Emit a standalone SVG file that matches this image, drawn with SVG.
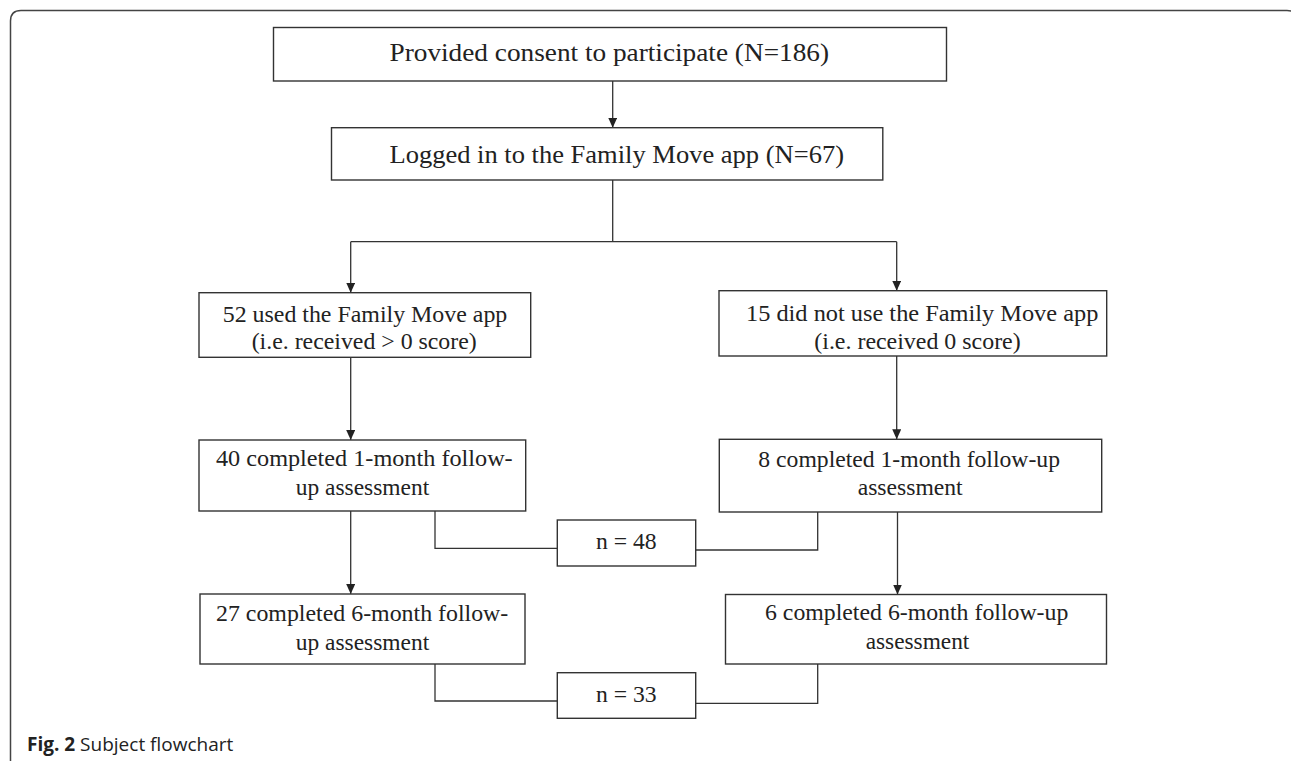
<svg xmlns="http://www.w3.org/2000/svg" width="1291" height="761" viewBox="0 0 1291 761">
<defs>
<marker id="ah" markerUnits="userSpaceOnUse" markerWidth="10" markerHeight="9" refX="10" refY="4.5" orient="auto">
<path d="M0,0 L10,4.5 L0,9 Z" fill="#222"/>
</marker>
<style>
.box{fill:#fff;stroke:#333;stroke-width:1.4}
.t{font-family:"Liberation Serif","Times New Roman",serif;fill:#222;font-size:23.5px}
.tb{font-family:"Liberation Serif","Times New Roman",serif;fill:#222;font-size:26px}
.ln{fill:none;stroke:#333;stroke-width:1.3}
.ar{fill:none;stroke:#333;stroke-width:1.3;marker-end:url(#ah)}
.cap{font-family:"Open Sans","Noto Sans",sans-serif;fill:#222;font-size:19px}
</style>
</defs>
<rect width="1291" height="761" fill="#fff"/>
<path d="M10.5,763 V21 Q10.5,10.5 21,10.5 H1287 Q1297,10.5 1297,20" fill="none" stroke="#444" stroke-width="1.5"/>

<g id="connectors">
<line class="ar" x1="612.7" y1="81" x2="612.7" y2="127.7"/>
<line class="ln" x1="612.7" y1="180" x2="612.7" y2="241.7"/>
<line class="ln" x1="350.7" y1="241.7" x2="896.7" y2="241.7"/>
<line class="ar" x1="350.7" y1="241.7" x2="350.7" y2="292.7"/>
<line class="ar" x1="896.7" y1="241.7" x2="896.7" y2="290.7"/>
<line class="ar" x1="350.7" y1="357.3" x2="350.7" y2="440"/>
<line class="ar" x1="896.7" y1="356" x2="896.7" y2="439.3"/>
<line class="ar" x1="350.7" y1="511" x2="350.7" y2="594"/>
<line class="ar" x1="897.5" y1="512" x2="897.5" y2="594.5"/>
<polyline class="ln" points="435,511 435,548.3 557.3,548.3"/>
<polyline class="ln" points="817.7,512 817.7,550 695.7,550"/>
<polyline class="ln" points="435,664 435,701 557.3,701"/>
<polyline class="ln" points="817.7,664 817.7,703.3 695.7,703.3"/>
</g>

<g id="consent">
<rect class="box" x="273.5" y="27.5" width="673" height="53.5"/>
<text class="tb" x="389.5" y="60.5" textLength="439.5" lengthAdjust="spacingAndGlyphs">Provided consent to participate (N=186)</text>
</g>
<g id="logged">
<rect class="box" x="331.5" y="127.7" width="551.3" height="52.3"/>
<text class="tb" x="389.5" y="163" textLength="454.5" lengthAdjust="spacingAndGlyphs">Logged in to the Family Move app (N=67)</text>
</g>
<g id="used">
<rect class="box" x="199" y="292.7" width="331.7" height="64.6"/>
<text class="t" x="222.7" y="321.7" textLength="284.6" lengthAdjust="spacingAndGlyphs">52 used the Family Move app</text>
<text class="t" x="251.7" y="349" textLength="225" lengthAdjust="spacingAndGlyphs">(i.e. received &gt; 0 score)</text>
</g>
<g id="notused">
<rect class="box" x="719" y="290.7" width="387.7" height="65.3"/>
<text class="t" x="746" y="320.7" textLength="352.3" lengthAdjust="spacingAndGlyphs">15 did not use the Family Move app</text>
<text class="t" x="814.3" y="349" textLength="206.4" lengthAdjust="spacingAndGlyphs">(i.e. received 0 score)</text>
</g>
<g id="used1m">
<rect class="box" x="199" y="440" width="326.7" height="71"/>
<text class="t" x="216" y="466" textLength="296.7" lengthAdjust="spacingAndGlyphs">40 completed 1-month follow-</text>
<text class="t" x="295.7" y="495" textLength="133.6" lengthAdjust="spacingAndGlyphs">up assessment</text>
</g>
<g id="notused1m">
<rect class="box" x="719.3" y="439.3" width="382.4" height="72.7"/>
<text class="t" x="758.3" y="466.7" textLength="301.7" lengthAdjust="spacingAndGlyphs">8 completed 1-month follow-up</text>
<text class="t" x="857.7" y="495" textLength="105" lengthAdjust="spacingAndGlyphs">assessment</text>
</g>
<g id="n48">
<rect class="box" x="557.3" y="520" width="138.4" height="46"/>
<text class="t" x="596" y="549" textLength="60.7" lengthAdjust="spacingAndGlyphs">n = 48</text>
</g>
<g id="used6m">
<rect class="box" x="200" y="594" width="325" height="70"/>
<text class="t" x="216" y="620.7" textLength="292.3" lengthAdjust="spacingAndGlyphs">27 completed 6-month follow-</text>
<text class="t" x="295.7" y="650" textLength="133.6" lengthAdjust="spacingAndGlyphs">up assessment</text>
</g>
<g id="notused6m">
<rect class="box" x="725.5" y="594.5" width="381" height="69.5"/>
<text class="t" x="765" y="620" textLength="303.3" lengthAdjust="spacingAndGlyphs">6 completed 6-month follow-up</text>
<text class="t" x="865.7" y="649.3" textLength="103.6" lengthAdjust="spacingAndGlyphs">assessment</text>
</g>
<g id="n33">
<rect class="box" x="557.3" y="672.7" width="138.4" height="45.6"/>
<text class="t" x="596" y="701.7" textLength="60.7" lengthAdjust="spacingAndGlyphs">n = 33</text>
</g>

<g id="caption">
<text class="cap" x="27" y="750.7"><tspan font-weight="bold">Fig. 2</tspan> Subject flowchart</text>
</g>
</svg>
